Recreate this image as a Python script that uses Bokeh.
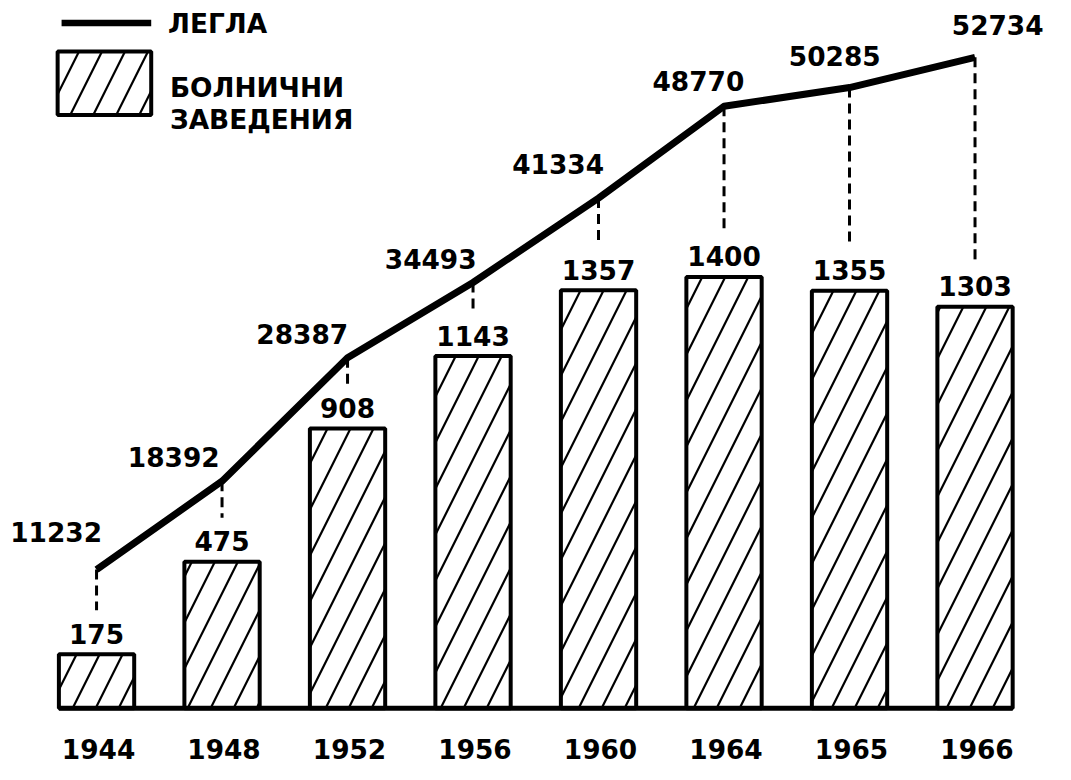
from bokeh.plotting import figure
from bokeh.models import Range1d, ColumnDataSource
from bokeh.embed import file_html
from bokeh.resources import INLINE
from bokeh.core.properties import value

# ---- data ----
years = ["1944", "1948", "1952", "1956", "1960", "1964", "1965", "1966"]
hospitals = [175, 475, 908, 1143, 1357, 1400, 1355, 1303]      # БОЛНИЧНИ ЗАВЕДЕНИЯ
beds = [11232, 18392, 28387, 34493, 41334, 48770, 50285, 52734]  # ЛЕГЛА

# label offsets (reference px) for the bed-count labels (style only)
beds_dx = [-41, -49, -46, -43, -41, -26, -15, 23]
beds_dy = [-38, -25, -24, -24, -35, -26, -32, -33]

# ---- layout ----
W, H = 1055, 764
REF_W, REF_H = 1071, 780
kx, ky = W / REF_W, H / REF_H

PITCH = 127.4      # ref px between bar centres
X0 = 97.5          # ref px of first bar centre
BASE = 722.5       # ref px of baseline
SB = 0.3145        # ref px per hospital
SL = 0.0126        # ref px per bed

x_start = -X0 / PITCH
x_end = x_start + REF_W / PITCH
yb_start, yb_end = -(REF_H - BASE) / SB, BASE / SB
yl_start, yl_end = -(REF_H - BASE) / SL, BASE / SL

FONT = value("DejaVu Sans")
FS = "%.1fpx" % (27 * ky)

xs = list(range(len(years)))
bar_w = 0.6

p = figure(width=W, height=H, output_backend="svg", toolbar_location=None,
           x_range=Range1d(x_start, x_end), y_range=Range1d(yb_start, yb_end),
           x_axis_location=None, y_axis_location=None, min_border=0,
           background_fill_color="white", border_fill_color="white")
p.extra_y_ranges = {"beds": Range1d(yl_start, yl_end)}
p.grid.visible = False
p.outline_line_color = None

src = ColumnDataSource(dict(
    x=xs, year=years, h=hospitals, beds=beds,
    h_txt=[str(v) for v in hospitals], b_txt=[str(v) for v in beds],
    dx=[d * kx for d in beds_dx], dy=[d * ky for d in beds_dy],
    # dash bottom: 45 ref px above bar top, expressed in the beds scale
    dash_bot=[(v * SB + 45) / SL for v in hospitals],
))

HATCH = dict(hatch_pattern="/", hatch_color="black", hatch_scale=46, hatch_weight=2.2)

# bars
p.vbar(x="x", top="h", bottom=0, width=bar_w, source=src,
       fill_color="white", line_color="black", line_width=4, **HATCH)

# baseline
p.segment(x0=[xs[0] - bar_w / 2], y0=[0], x1=[xs[-1] + bar_w / 2], y1=[0],
          line_color="black", line_width=5)

# dashed connectors
p.segment(x0="x", y0="beds", x1="x", y1="dash_bot", source=src, y_range_name="beds",
          line_color="black", line_width=3, line_dash="10 6")

# beds line
p.line(x="x", y="beds", source=src, y_range_name="beds",
       line_color="black", line_width=7, line_join="round")

TXT = dict(text_font=FONT, text_font_style="bold", text_font_size=FS, text_color="black",
           text_align="center", text_baseline="middle")

# labels
p.text(x="x", y="h", text="h_txt", source=src, y_offset=-21 * ky, **TXT)
p.text(x="x", y="beds", text="b_txt", source=src, y_range_name="beds",
       x_offset="dx", y_offset="dy", **TXT)
p.text(x="x", y=0, text="year", source=src, x_offset=2 * kx, y_offset=42 * ky, **TXT)

# ---- legend (drawn manually, positions given in reference pixels) ----
def px_x(px):
    return x_start + px / PITCH

def px_y(py):
    return (BASE - py) / SB

p.segment(x0=[px_x(62)], y0=[px_y(23)], x1=[px_x(153)], y1=[px_y(23)],
          line_color="black", line_width=6.5)
p.quad(left=[px_x(58)], right=[px_x(153)], top=[px_y(52)], bottom=[px_y(117)],
       fill_color="white", line_color="black", line_width=4, **HATCH)
p.text(x=[px_x(170), px_x(172), px_x(172)], y=[px_y(23), px_y(89), px_y(121)],
       text=["ЛЕГЛА", "БОЛНИЧНИ", "ЗАВЕДЕНИЯ"],
       text_align="left", text_baseline="middle",
       text_font=FONT, text_font_style="bold", text_font_size=FS, text_color="black")

open("out.html", "w").write(file_html(p, INLINE))
